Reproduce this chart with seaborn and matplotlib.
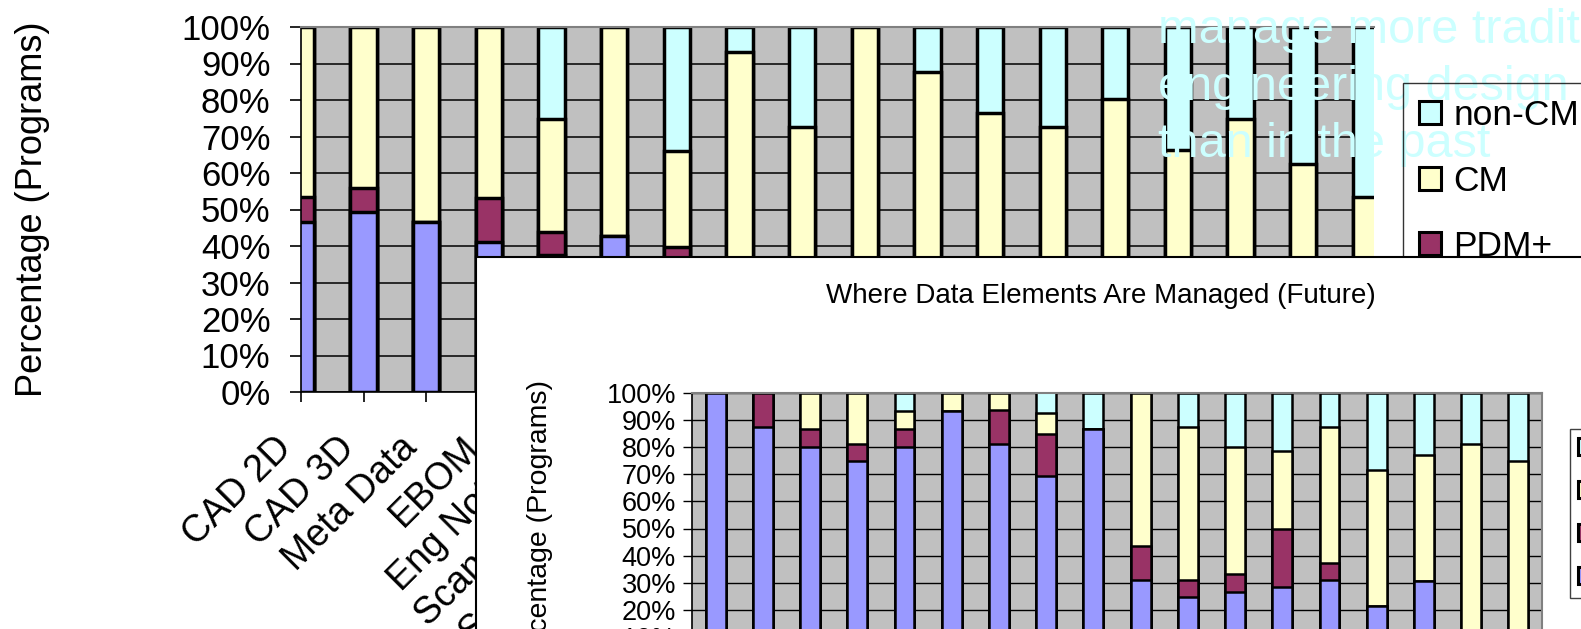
import pandas as pd
import numpy as np

import matplotlib
matplotlib.use("Agg")
import matplotlib.pyplot as plt
import matplotlib.transforms as mtransforms
from matplotlib.patches import Patch
from matplotlib.ticker import PercentFormatter
import seaborn as sns

plt.rcParams['font.family'] = ['Liberation Sans', 'DejaVu Sans']

# data elements (only the first few are readable, the rest sit under the inset)
elements = ["CAD 2D", "CAD 3D", "Meta Data", "EBOM", "Eng Notices", "Scan Drawings",
            "Software Source", "Test Data", "Analysis Data", "Requirements", "Tooling",
            "MBOM", "Mfg Process", "Quality Data", "Supplier Data", "Service Data",
            "Training", "Logistics"]
series_names = ["PDM", "PDM+", "CM", "non-CM"]

# where data elements are managed today (% of programs)
now_pdm      = [46.7, 49.3, 46.6, 41.1, 37.5, 42.7, 33.2, 33.0, 20.0, 30.0, 25.0, 20.0, 15.0, 20.0, 10.0, 20.0, 0.0, 0.0]
now_pdm_plus = [6.6, 6.6, 0.0, 12.1, 6.3, 0.0, 6.6, 0.0, 0.0, 0.0, 0.0, 5.0, 0.0, 0.0, 0.0, 0.0, 0.0, 0.0]
now_cm       = [46.7, 44.1, 53.4, 46.8, 31.0, 57.3, 26.3, 60.2, 52.7, 70.0, 62.8, 51.4, 57.7, 60.3, 56.3, 54.7, 62.5, 53.3]
now_non_cm   = [0.0, 0.0, 0.0, 0.0, 25.2, 0.0, 33.9, 6.8, 27.3, 0.0, 12.2, 23.6, 27.3, 19.7, 33.7, 25.3, 37.5, 46.7]

# where data elements are managed in the future (% of programs)
fut_pdm      = [100.0, 87.5, 80.0, 75.0, 80.0, 93.3, 81.25, 69.2, 86.7, 31.25, 25.0, 26.7, 28.6, 31.25, 21.4, 30.8, 0.0, 0.0]
fut_pdm_plus = [0.0, 12.5, 6.7, 6.25, 6.7, 0.0, 12.5, 15.4, 0.0, 12.5, 6.25, 6.7, 21.4, 6.25, 0.0, 0.0, 0.0, 0.0]
fut_cm       = [0.0, 0.0, 13.3, 18.75, 6.6, 6.7, 6.25, 7.7, 0.0, 56.25, 56.25, 46.6, 28.6, 50.0, 50.0, 46.2, 81.25, 75.0]
fut_non_cm   = [0.0, 0.0, 0.0, 0.0, 6.7, 0.0, 0.0, 7.7, 13.3, 0.0, 12.5, 20.0, 21.4, 12.5, 28.6, 23.0, 18.75, 25.0]

colors = {"PDM": "#9999FF", "PDM+": "#993366", "CM": "#FFFFCC", "non-CM": "#CCFFFF"}

W, H = 1581, 629
fig = plt.figure(figsize=(W / 100, H / 100), dpi=100)


def stacked_bars(ax, pdm, pdm_plus, cm, non_cm, lw):
    df = pd.DataFrame({"PDM": pdm, "PDM+": pdm_plus, "CM": cm, "non-CM": non_cm}, index=elements)
    cum = df.cumsum(axis=1)
    cum.index.name = "element"
    cum = cum.reset_index()
    # tallest (cumulative) first, each lower segment drawn on top of it
    for name in reversed(series_names):
        sns.barplot(data=cum, x="element", y=name, order=elements, color=colors[name],
                    saturation=1, width=0.42, edgecolor="black", linewidth=lw,
                    errorbar=None, ax=ax)


def style_axes(ax, lw_grid):
    ax.set_facecolor("#C0C0C0")
    ax.set_ylim(0, 100)
    ax.set_yticks(np.arange(0, 101, 10))
    ax.yaxis.set_major_formatter(PercentFormatter(decimals=0))
    ax.yaxis.grid(True, color="black", linewidth=lw_grid)
    ax.set_axisbelow(True)
    for s in ["top", "right"]:
        ax.spines[s].set_color("#808080")
        ax.spines[s].set_linewidth(1.5)
    for s in ["left", "bottom"]:
        ax.spines[s].set_color("black")
        ax.spines[s].set_linewidth(1.2)
    ax.set_xlabel("")


# ---- top chart (today)
ax1 = fig.add_axes([301 / W, 1 - 392 / H, (1374 - 301) / W, (392 - 27) / H])
stacked_bars(ax1, now_pdm, now_pdm_plus, now_cm, now_non_cm, 2.5)
style_axes(ax1, 1.1)
ax1.set_xlim(0.037, 17.13)
ax1.spines["right"].set_visible(False)
ax1.set_ylabel("Percentage (Programs)", fontsize=26)
ax1.yaxis.set_label_coords((50 - 301) / (1374 - 301), 0.5)
ax1.tick_params(axis="y", length=8, width=1.2, pad=14, labelsize=25)
ax1.tick_params(axis="x", length=7, width=1.2, pad=20, labelsize=27)
ax1.set_xticks(range(len(elements)))
ax1.set_xticklabels(elements, rotation=45, ha="right")
shift = mtransforms.ScaledTranslation(-2 / 100, 0, fig.dpi_scale_trans)
for lab in ax1.get_xticklabels():
    lab.set_transform(lab.get_transform() + shift)

# overlay note text from the slide
note_lines = ["manage more traditional", "engineering design data", "than in the past"]
for line, base in zip(note_lines, [43, 100, 157]):
    fig.text(1158 / W, 1 - base / H, line, fontsize=35, color="#CCFFFF",
             va="baseline", ha="left", zorder=5)

handles = [Patch(facecolor=colors[n], edgecolor="black", linewidth=2.2, label=n)
           for n in reversed(series_names)]
leg1 = fig.legend(handles=handles, loc="upper left", bbox_to_anchor=(1403 / W, 1 - 83 / H),
                  fontsize=25.5, fancybox=False, edgecolor="black", facecolor="none",
                  borderpad=0.45, labelspacing=0.92, handlelength=0.62, handleheight=0.62,
                  handletextpad=0.35, borderaxespad=0)
leg1.get_frame().set_linewidth(1)
leg1.set_zorder(6)

# ---- inset (future chart pasted over the first one)
bg = fig.add_axes([476 / W, -0.1, 1.0, (629 - 257) / H + 0.1])
bg.set_facecolor("white")
bg.set_xticks([])
bg.set_yticks([])
for s in ["bottom", "right"]:
    bg.spines[s].set_visible(False)
for s in ["top", "left"]:
    bg.spines[s].set_color("black")
    bg.spines[s].set_linewidth(1.5)
bg.set_zorder(10)

ax2 = fig.add_axes([692 / W, 1 - 664.5 / H, (1542 - 692) / W, (664.5 - 392.5) / H])
ax2.set_zorder(11)
stacked_bars(ax2, fut_pdm, fut_pdm_plus, fut_cm, fut_non_cm, 1.8)
style_axes(ax2, 1.0)
ax2.set_xlim(-0.5, len(elements) - 0.5)
ax2.set_ylabel("Percentage (Programs)", fontsize=20.5)
ax2.yaxis.set_label_coords((553 - 692) / (1542 - 692), 0.5)
ax2.tick_params(axis="y", length=6.5, width=1.0, pad=5, labelsize=19.5)
ax2.tick_params(axis="x", length=6, width=1.0, pad=14, labelsize=19)
ax2.set_xticks(range(len(elements)))
ax2.set_xticklabels(elements, rotation=45, ha="right")

fig.text(1101 / W, 1 - 303 / H, "Where Data Elements Are Managed (Future)", fontsize=20,
         ha="center", va="baseline", zorder=12)

leg2 = ax2.legend(handles=handles, loc="upper left", bbox_to_anchor=(1570 / W, 1 - 429 / H),
                  bbox_transform=fig.transFigure, fontsize=19, fancybox=False,
                  edgecolor="#404040", framealpha=1, borderpad=0.3, labelspacing=0.72,
                  handlelength=0.6, handleheight=0.6, handletextpad=0.4, borderaxespad=0)
leg2.get_frame().set_linewidth(1)

fig.savefig("out.png", dpi=100)
